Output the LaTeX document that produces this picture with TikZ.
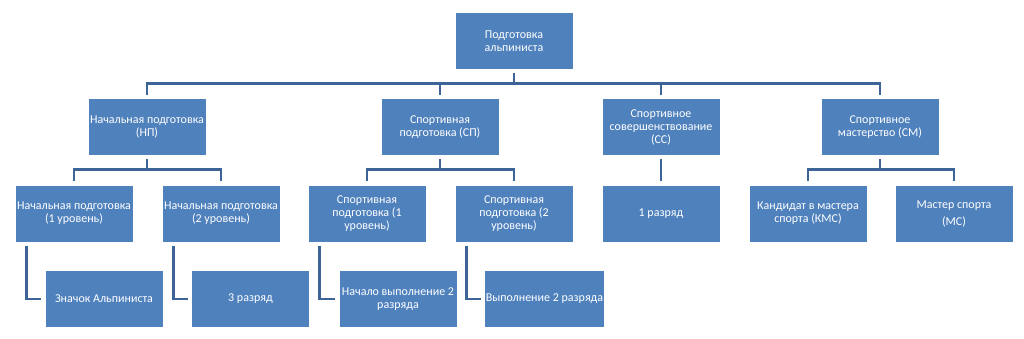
\documentclass[tikz,border=0pt]{standalone}
\usepackage{fontspec}
\setmainfont{Carlito}
\usetikzlibrary{positioning}
\definecolor{boxblue}{HTML}{4F81BD}
\definecolor{linkblue}{HTML}{3C6496}

\begin{document}
\begin{tikzpicture}[
      x=1pt, y=-1pt,
      unit/.style={rectangle, fill=boxblue, minimum width=117pt, minimum height=56pt,
        inner sep=1pt, align=center, text=white, font=\fontsize{12}{13}\selectfont},
      link/.style={draw=linkblue, line width=2.6pt, shorten <=4pt, shorten >=4pt}]

      \useasboundingbox (0,0) rectangle (1024,338);

      \node[unit] (top) at (514,41) {Подготовка\\альпиниста};
      % first level
      \node[unit] (np) at (147,127) {Начальная подготовка\\(НП)};
      \node[unit] (sp) at (440,127) {Спортивная\\подготовка (СП)};
      \node[unit] (ss) at (661,127) {Спортивное\\совершенствование\\(СС)};
      \node[unit] (sm) at (880,127) {Спортивное\\мастерство (СМ)};
      % second level
      \node[unit] (np1) at (74,213.5) {Начальная подготовка\\(1 уровень)};
      \node[unit] (np2) at (221,213.5) {Начальная подготовка\\(2 уровень)};
      \node[unit] (sp1) at (367,213.5) {Спортивная\\подготовка (1\\уровень)};
      \node[unit] (sp2) at (514,213.5) {Спортивная\\подготовка (2\\уровень)};
      \node[unit] (r1) at (661,213.5) {1 разряд};
      \node[unit] (kms) at (808,213.5) {Кандидат в мастера\\спорта (КМС)};
      \node[unit] (ms) at (954,213.5) {Мастер спорта\\[4pt](МС)};
      % third level
      \node[unit] (zn) at (104,299) {Значок Альпиниста};
      \node[unit] (r3) at (250.5,299) {3 разряд};
      \node[unit] (nach) at (398,299) {Начало выполнение 2\\разряда};
      \node[unit] (vyp) at (544.5,299) {Выполнение 2 разряда};

      % links
      \foreach \p/\c in {top/np, top/sp, top/ss, top/sm, np/np1, np/np2,
                         sp/sp1, sp/sp2, ss/r1, sm/kms, sm/ms}{
        \draw[link] (\p.south) -- ++(0,14) -| (\c.north);
      }
      \foreach \p/\c in {np1/zn, np2/r3, sp1/nach, sp2/vyp}{
        \draw[link] ([xshift=11pt]\p.south west) |- (\c.west);
      }
    \end{tikzpicture}
\end{document}
